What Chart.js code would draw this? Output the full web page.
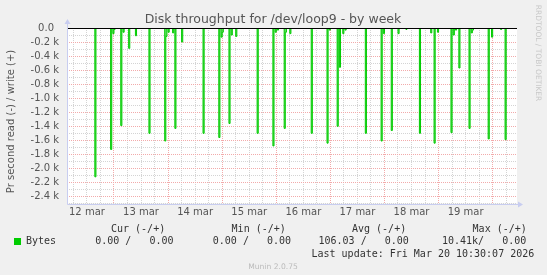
<!DOCTYPE html>
<html>
<head>
<meta charset="utf-8">
<script src="https://cdn.jsdelivr.net/npm/chart.js@4.4.0/dist/chart.umd.min.js"></script>
<style>
  html, body { margin: 0; padding: 0; background: #f0f0f0; }
  #wrap { width: 547px; height: 275px; }
</style>
</head>
<body>
<div id="wrap"><canvas id="c" width="547" height="275"></canvas></div>
<script>
// 30 min samples, hours since 12 mar 00:00 (end of sample), read values in k (drawn negative)
const readHours = [16, 23, 24, 24.5, 27.5, 28.5, 31, 34, 40, 47, 47.5, 48.5, 50.5, 51.5, 54.5,
  64, 71, 72, 72.5, 75.5, 76.5, 78.5, 88, 95, 96, 97, 100, 100.5, 102.5, 112, 119, 120,
  123.5, 124.5, 126, 127, 136, 143, 144, 147.5, 150.5, 154, 160, 165, 166.5, 168,
  174, 175, 176, 177.5, 182, 183, 183.5, 190.5, 192, 196, 198];
const readK = [-2.12, -1.73, -0.08, -0.02, -1.39, -0.06, -0.29, -0.11, -1.50, -1.61, -0.12, -0.06, -0.07, -1.43, -0.20,
  -1.50, -1.56, -0.13, -0.06, -1.36, -0.10, -0.12, -1.50, -1.68, -0.06, -0.03, -1.43, -0.06, -0.08, -1.50, -1.64, -0.03,
  -1.40, -0.56, -0.08, -0.03, -1.50, -1.61, -0.08, -1.46, -0.08, -0.02, -1.50, -0.07, -1.64, -0.06,
  -1.49, -0.10, -0.03, -0.57, -1.43, -0.07, -0.03, -1.58, -0.13, -0.02, -1.59];

const dayLabels = ['12 mar', '13 mar', '14 mar', '15 mar', '16 mar', '17 mar', '18 mar', '19 mar'];
const dayLabelHours = [12, 36, 60, 84, 108, 132, 156, 180];

const legendCols = ['Cur (-/+)', 'Min (-/+)', 'Avg (-/+)', 'Max (-/+)'];
const bytesValues = ['0.00 /   0.00', '0.00 /   0.00', '106.03 /   0.00', '10.41k/   0.00'];
const lastUpdate = 'Last update: Fri Mar 20 10:30:07 2026';

const startHour = 3.15;
const endHour = 202.8;

// full series on the 30 min grid, zero where nothing was read
const series = [];
for (let h = 3.5; h <= 202.5; h += 0.5) {
    const i = readHours.indexOf(h);
    series.push({ x: h, y: i >= 0 ? readK[i] : 0 });
}

const majorGrid = '#f2aaaa';
const minorGrid = '#d4d4d4';
const axisColor = '#c8cdf0';

const muninPlugin = {
    id: 'munin',
    beforeDraw(chart) {
        const { ctx, chartArea: a } = chart;
        ctx.save();
        ctx.fillStyle = '#f0f0f0';
        ctx.fillRect(0, 0, chart.width, chart.height);
        ctx.fillStyle = '#ffffff';
        ctx.fillRect(a.left, a.top, a.right - a.left, a.bottom - a.top);
        ctx.restore();
    },
    afterDatasetsDraw(chart) {
        const { ctx, chartArea: a, scales } = chart;
        ctx.save();
        // zero line
        const y0 = Math.round(scales.y.getPixelForValue(0)) + 0.5;
        ctx.strokeStyle = '#000';
        ctx.lineWidth = 1;
        ctx.beginPath();
        ctx.moveTo(a.left, y0);
        ctx.lineTo(a.right, y0);
        ctx.stroke();
        // axes with arrows
        const xl = Math.round(a.left) + 0.5;
        const yb = Math.round(a.bottom) + 0.5;
        ctx.strokeStyle = axisColor;
        ctx.beginPath();
        ctx.moveTo(xl, yb);
        ctx.lineTo(xl, a.top - 5);
        ctx.moveTo(xl, yb);
        ctx.lineTo(a.right + 3, yb);
        ctx.stroke();
        ctx.fillStyle = axisColor;
        ctx.beginPath();
        ctx.moveTo(xl - 3, a.top - 4);
        ctx.lineTo(xl + 3, a.top - 4);
        ctx.lineTo(xl, a.top - 9);
        ctx.closePath();
        ctx.fill();
        ctx.beginPath();
        ctx.moveTo(a.right + 1, yb - 3);
        ctx.lineTo(a.right + 1, yb + 3);
        ctx.lineTo(a.right + 6, yb);
        ctx.closePath();
        ctx.fill();
        ctx.restore();
    },
    afterDraw(chart) {
        const ctx = chart.ctx;
        ctx.save();
        ctx.textBaseline = 'middle';
        // title
        ctx.fillStyle = '#555';
        ctx.font = '12.5px "DejaVu Sans"';
        ctx.textAlign = 'center';
        ctx.fillText('Disk throughput for /dev/loop9 - by week', 273, 20);
        // y title
        ctx.save();
        ctx.translate(11, 121.5);
        ctx.rotate(-Math.PI / 2);
        ctx.font = '10px "DejaVu Sans"';
        ctx.fillText('Pr second read (-) / write (+)', 0, 0);
        ctx.restore();
        // rrdtool credit
        ctx.save();
        ctx.translate(538, 53);
        ctx.rotate(Math.PI / 2);
        ctx.fillStyle = '#c8c8c8';
        ctx.font = '7.5px "DejaVu Sans"';
        ctx.fillText('RRDTOOL / TOBI OETIKER', 0, 0);
        ctx.restore();
        // legend
        ctx.textAlign = 'left';
        ctx.fillStyle = '#333';
        ctx.font = '10px "DejaVu Sans Mono"';
        const colX = [111, 231.6, 352, 472.6];
        const valX = [95.2, 212.8, 318.5, 442];
        legendCols.forEach((t, i) => ctx.fillText(t, colX[i], 229));
        ctx.fillText('Bytes', 26, 241);
        bytesValues.forEach((t, i) => ctx.fillText(t, valX[i], 241));
        ctx.fillText(lastUpdate, 311.5, 254);
        ctx.fillStyle = '#00cc00';
        ctx.fillRect(14, 238, 7, 7);
        // munin version
        ctx.textAlign = 'center';
        ctx.fillStyle = '#bbb';
        ctx.font = '7.6px "DejaVu Sans"';
        ctx.fillText('Munin 2.0.75', 273, 267);
        ctx.restore();
    }
};

new Chart(document.getElementById('c'), {
    type: 'line',
    data: {
        datasets: [{
            label: 'Bytes',
            data: series,
            borderColor: '#00cc00',
            backgroundColor: 'rgba(0,204,0,0.6)',
            borderWidth: 1,
            fill: 'origin',
            stepped: 'after',
            pointRadius: 0,
            tension: 0
        }]
    },
    options: {
        responsive: false,
        animation: false,
        layout: { padding: { left: 0, right: 30, top: 28, bottom: 0 } },
        plugins: { legend: { display: false }, tooltip: { enabled: false } },
        scales: {
            x: {
                type: 'linear',
                min: startHour,
                max: endHour,
                afterFit(scale) { scale.height = 71.5; },
                afterBuildTicks(scale) {
                    const t = [];
                    for (let h = 6; h < endHour; h += 6) t.push({ value: h });
                    scale.ticks = t;
                },
                grid: {
                    drawTicks: false,
                    color: c => (c.tick && c.tick.value % 24 === 0) ? majorGrid : minorGrid
                },
                border: { display: false, dash: [1, 1] },
                ticks: {
                    autoSkip: false,
                    maxRotation: 0,
                    padding: 3,
                    color: '#555',
                    font: { family: 'DejaVu Sans', size: 10 },
                    callback: v => {
                        const i = dayLabelHours.indexOf(v);
                        return i >= 0 ? dayLabels[i] : '';
                    }
                }
            },
            y: {
                min: -2.5,
                max: 0,
                afterFit(scale) { scale.width = 67; },
                grid: {
                    drawTicks: false,
                    color: c => (Math.round(c.tick.value * 10) % 2 === 0) ? majorGrid : minorGrid
                },
                border: { display: false, dash: [1, 1] },
                ticks: {
                    stepSize: 0.1,
                    autoSkip: false,
                    padding: 8,
                    color: '#555',
                    font: { family: 'DejaVu Sans', size: 10 },
                    callback: v => {
                        const t = Math.round(v * 10);
                        if (t % 2 !== 0) return '';
                        if (t === 0) return '0.0\u2002';
                        return (t / 10).toFixed(1) + ' k';
                    }
                }
            }
        }
    },
    plugins: [muninPlugin]
});
</script>
</body>
</html>
